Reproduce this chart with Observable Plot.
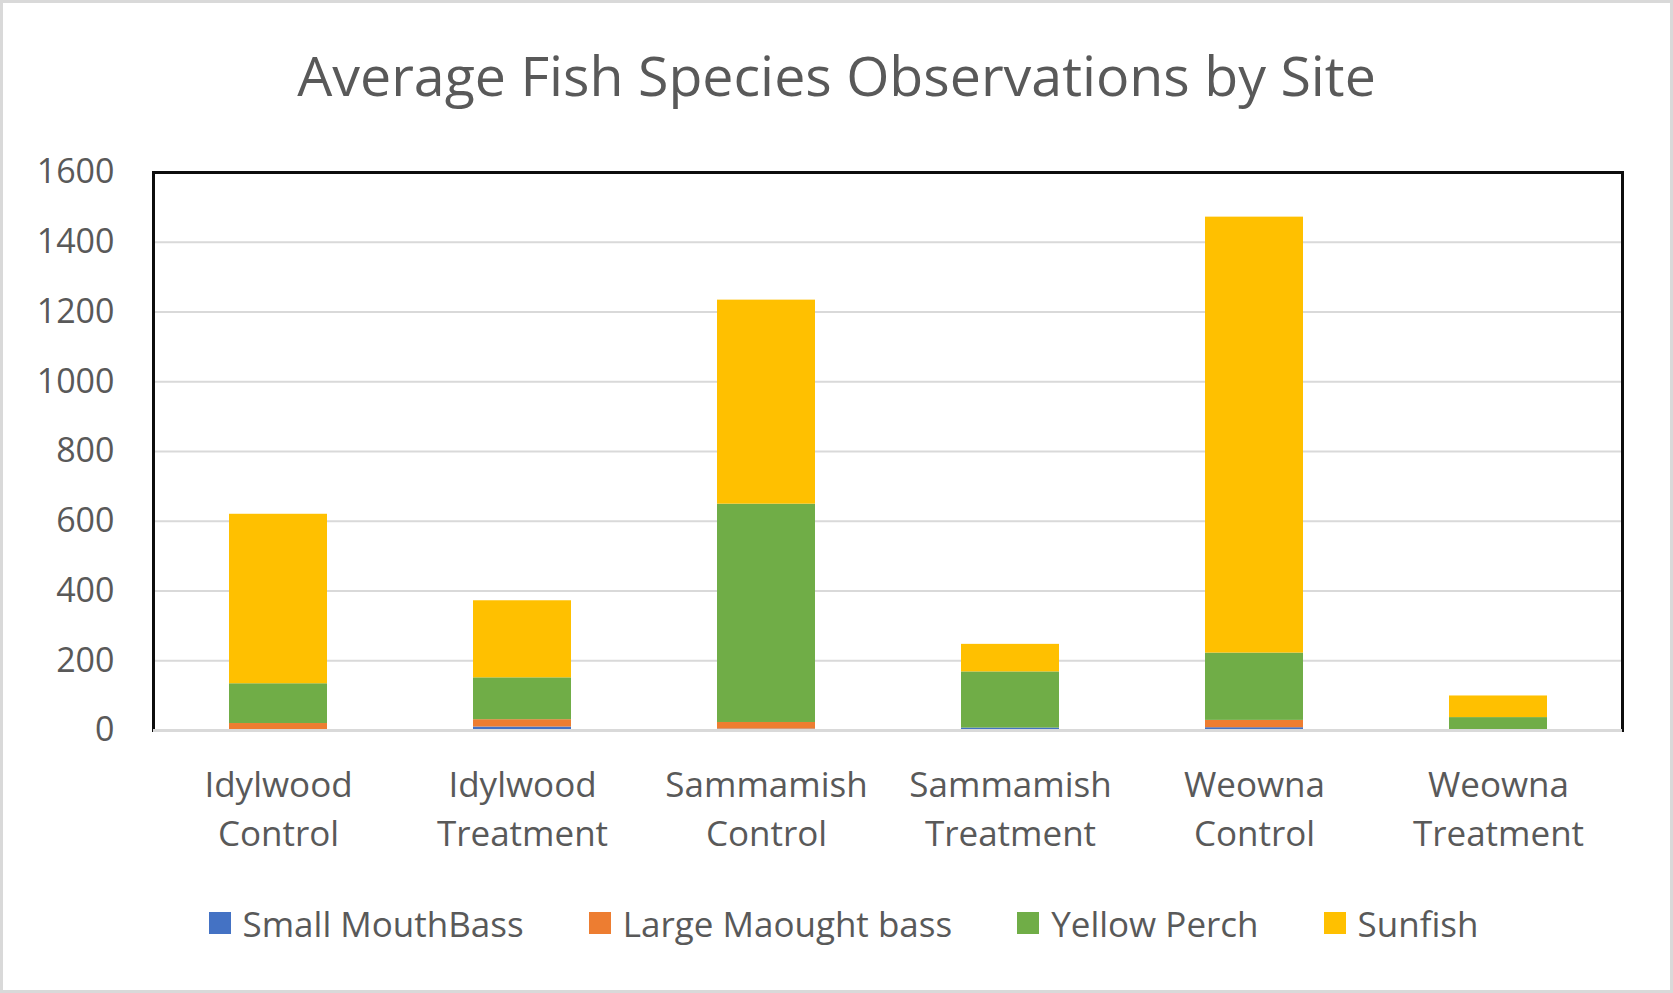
<!DOCTYPE html>
<html>
<head>
<meta charset="utf-8">
<script src="https://cdn.jsdelivr.net/npm/d3@7"></script>
<script src="https://cdn.jsdelivr.net/npm/@observablehq/plot@0.6"></script>
<style>
  html, body { margin: 0; padding: 0; background: #fff; }
  #wrap { position: relative; width: 1673px; height: 993px; background: #fff; overflow: hidden; font-family: "Open Sans", sans-serif; color: #595959; }
  #border { position: absolute; left: 0; top: 0; width: 1673px; height: 993px; box-sizing: border-box; border: 3px solid #d9d9d9; pointer-events: none; z-index: 5; }
  #title { position: absolute; left: 0; top: 0; width: 1673px; height: 148px; display: flex; align-items: center; justify-content: center; font-size: 55.5px; }
  #chart { position: absolute; left: 0; top: 140px; }
  #legend { position: absolute; left: 0; top: 878px; width: 1673px; height: 90px; box-sizing: border-box; padding-left: 14px; display: flex; align-items: center; justify-content: center; font-size: 35px; }
  .item { display: flex; align-items: center; margin: 0 32.5px; }
  .sw { width: 22px; height: 22px; margin-right: 12px; }
</style>
</head>
<body>
<div id="wrap">
  <div id="title">Average Fish Species Observations by Site</div>
  <div id="chart"></div>
  <div id="legend"></div>
  <div id="border"></div>
</div>
<script>
const sites = ["Idylwood Control", "Idylwood Treatment", "Sammamish Control", "Sammamish Treatment", "Weowna Control", "Weowna Treatment"];
const species = ["Small MouthBass", "Large Maought bass", "Yellow Perch", "Sunfish"];
const colors = ["#4472C4", "#ED7D31", "#70AD47", "#FFC000"];
const smallMouthBass = [0, 10, 4, 7, 8, 0];
const largeMaoughtBass = [20, 21, 19, 0, 21, 0];
const yellowPerch = [114, 120, 626, 161, 193, 37];
const sunfish = [486, 221, 585, 79, 1250, 62];
const yTicks = [0, 200, 400, 600, 800, 1000, 1200, 1400, 1600];

const series = [smallMouthBass, largeMaoughtBass, yellowPerch, sunfish];
const data = sites.flatMap((s, i) => species.map((sp, j) => ({site: s, species: sp, value: series[j][i]})));

const chart = Plot.plot({
  width: 1673,
  height: 740,
  marginLeft: 153,
  marginRight: 51,
  marginTop: 32,
  marginBottom: 150,
  style: {fontFamily: "'Open Sans', sans-serif", fontSize: "35px", color: "#595959", background: "transparent", overflow: "visible"},
  x: {domain: sites, paddingInner: 0.6, paddingOuter: 0.3, label: null},
  y: {domain: [0, 1600], label: null},
  color: {domain: species, range: colors},
  marks: [
    Plot.ruleY(yTicks.filter(d => d > 0 && d < 1600), {stroke: "#d9d9d9", strokeWidth: 2}),
    Plot.barY(data, {x: "site", y: "value", fill: "species"}),
    Plot.frame({stroke: "#0d0d0d", strokeWidth: 3}),
    Plot.ruleY([0], {stroke: "#d9d9d9", strokeWidth: 3}),
    Plot.axisY({ticks: yTicks, tickSize: 0, tickPadding: 39, fontSize: 34, tickFormat: d => String(d), label: null}),
    Plot.axisX({tickSize: 0, tickPadding: 31, tickFormat: d => d.replace(" ", "\n"), lineHeight: 1.42, label: null})
  ]
});
document.getElementById("chart").appendChild(chart);

const legend = document.getElementById("legend");
species.forEach((sp, i) => {
  const it = document.createElement("div");
  it.className = "item";
  const sw = document.createElement("div");
  sw.className = "sw";
  sw.style.background = colors[i];
  const tx = document.createElement("span");
  tx.textContent = sp;
  it.appendChild(sw);
  it.appendChild(tx);
  legend.appendChild(it);
});
</script>
</body>
</html>
